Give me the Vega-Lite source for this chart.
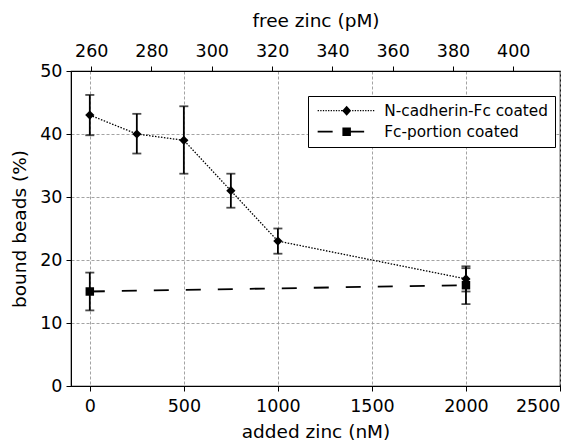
{
  "$schema": "https://vega.github.io/schema/vega-lite/v6.json",
  "width": 489,
  "height": 315,
  "autosize": "none",
  "padding": {"left": 71, "top": 71, "right": 25, "bottom": 57},
  "background": "white",
  "config": {
    "font": "DejaVu Sans",
    "view": {"stroke": "black", "strokeWidth": 1.2},
    "axis": {
      "domainColor": "black", "tickColor": "black", "labelColor": "black", "titleColor": "black",
      "labelFontSize": 17.5, "titleFontSize": 18.5, "titleFontWeight": "normal",
      "tickSize": 5, "labelPadding": 4, "gridColor": "#999999", "gridDash": [3, 2], "gridWidth": 0.9
    }
  },
  "datasets": {
    "beads": [
      {"series": "N-cadherin-Fc coated", "added": 0, "pct": 43, "lo": 39.8, "hi": 46.2},
      {"series": "N-cadherin-Fc coated", "added": 250, "pct": 40, "lo": 36.9, "hi": 43.2},
      {"series": "N-cadherin-Fc coated", "added": 500, "pct": 39, "lo": 33.7, "hi": 44.4},
      {"series": "N-cadherin-Fc coated", "added": 750, "pct": 31, "lo": 28.3, "hi": 33.7},
      {"series": "N-cadherin-Fc coated", "added": 1000, "pct": 23, "lo": 21, "hi": 25},
      {"series": "N-cadherin-Fc coated", "added": 2000, "pct": 17, "lo": 15, "hi": 19},
      {"series": "Fc-portion coated", "added": 0, "pct": 15, "lo": 12, "hi": 18},
      {"series": "Fc-portion coated", "added": 2000, "pct": 16, "lo": 13, "hi": 18.7}
    ],
    "free": [{"free": 260}, {"free": 400}]
  },
  "layer": [
    {
      "data": {"name": "beads"},
      "layer": [
        {
          "mark": {"type": "rule", "color": "black", "strokeWidth": 1.8},
          "encoding": {
            "x": {"field": "added", "type": "quantitative", "scale": {"domain": [-100, 2500], "nice": false, "zero": false},
              "axis": {"values": [0, 500, 1000, 1500, 2000, 2500], "format": "d", "title": "added zinc (nM)", "grid": true, "labelPadding": 6, "titlePadding": 8}},
            "y": {"field": "lo", "type": "quantitative", "scale": {"domain": [0, 50], "nice": false},
              "axis": {"values": [0, 10, 20, 30, 40, 50], "title": "bound beads (%)", "grid": true, "titlePadding": 10}},
            "y2": {"field": "hi"}
          }
        },
        {
          "mark": {"type": "tick", "color": "black", "thickness": 1.8, "size": 9, "orient": "horizontal"},
          "encoding": {
            "x": {"field": "added", "type": "quantitative"},
            "y": {"field": "lo", "type": "quantitative"}
          }
        },
        {
          "mark": {"type": "tick", "color": "black", "thickness": 1.8, "size": 9, "orient": "horizontal"},
          "encoding": {
            "x": {"field": "added", "type": "quantitative"},
            "y": {"field": "hi", "type": "quantitative"}
          }
        },
        {
          "mark": {"type": "line", "color": "black"},
          "encoding": {
            "x": {"field": "added", "type": "quantitative"},
            "y": {"field": "pct", "type": "quantitative"},
            "detail": {"field": "series"},
            "strokeDash": {"field": "series", "type": "nominal", "legend": null,
              "scale": {"domain": ["Fc-portion coated", "N-cadherin-Fc coated"], "range": [[15, 17], [1.5, 1.5]]}},
            "strokeWidth": {"field": "series", "type": "nominal", "legend": null,
              "scale": {"domain": ["Fc-portion coated", "N-cadherin-Fc coated"], "range": [1.8, 1.3]}}
          }
        },
        {
          "transform": [{"filter": "datum.series === 'N-cadherin-Fc coated'"}],
          "mark": {"type": "point", "shape": "diamond", "filled": true, "color": "black", "size": 85, "opacity": 1},
          "encoding": {
            "x": {"field": "added", "type": "quantitative"},
            "y": {"field": "pct", "type": "quantitative"}
          }
        },
        {
          "transform": [{"filter": "datum.series === 'Fc-portion coated'"}],
          "mark": {"type": "point", "shape": "square", "filled": true, "color": "black", "size": 72, "opacity": 1},
          "encoding": {
            "x": {"field": "added", "type": "quantitative"},
            "y": {"field": "pct", "type": "quantitative"}
          }
        },
        {
          "mark": {"type": "point", "fill": "black", "stroke": "black", "strokeWidth": 0, "opacity": 0},
          "encoding": {
            "x": {"field": "added", "type": "quantitative"},
            "y": {"field": "pct", "type": "quantitative"},
            "shape": {"field": "series", "type": "nominal",
              "scale": {"domain": ["N-cadherin-Fc coated", "Fc-portion coated"],
                "range": [
                  "M-1,-0.12h0.26v0.24h-0.26ZM-0.48,-0.12h0.26v0.24h-0.26ZM0.04,-0.12h0.26v0.24h-0.26ZM0.56,-0.12h0.26v0.24h-0.26ZM1.08,-0.12h0.26v0.24h-0.26ZM1.6,-0.12h0.26v0.24h-0.26ZM2.12,-0.12h0.26v0.24h-0.26ZM2.64,-0.12h0.26v0.24h-0.26ZM3.16,-0.12h0.26v0.24h-0.26ZM3.68,-0.12h0.26v0.24h-0.26ZM5.9,-0.12h0.26v0.24h-0.26ZM6.42,-0.12h0.26v0.24h-0.26ZM6.94,-0.12h0.26v0.24h-0.26ZM7.46,-0.12h0.26v0.24h-0.26ZM7.98,-0.12h0.26v0.24h-0.26ZM8.5,-0.12h0.26v0.24h-0.26ZM9.02,-0.12h0.26v0.24h-0.26ZM9.54,-0.12h0.26v0.24h-0.26ZM10.06,-0.12h0.26v0.24h-0.26ZM4.8,-1L5.7,0L4.8,1L3.9,0Z",
                  "M-1,-0.18H2V0.18H-1ZM4.4,-0.18H8.3V0.18H4.4ZM3.95,-0.85H5.65V0.85H3.95Z"
                ]},
              "legend": {
                "title": null, "orient": "none", "legendX": 237, "legendY": 25,
                "fillColor": "white", "strokeColor": "black", "padding": 7, "cornerRadius": 0,
                "symbolOpacity": 1, "symbolFillColor": "black", "symbolStrokeColor": "black", "symbolStrokeWidth": 0,
                "symbolSize": 100, "labelFontSize": 15.3, "labelOffset": 54, "rowPadding": 5, "labelColor": "black", "labelLimit": 300
              }
            }
          }
        }
      ]
    },
    {
      "data": {"name": "free"},
      "mark": {"type": "point", "opacity": 0},
      "encoding": {
        "x": {"field": "free", "type": "quantitative", "scale": {"domain": [253.3, 415.5], "nice": false, "zero": false},
          "axis": {"orient": "top", "values": [260, 280, 300, 320, 340, 360, 380, 400], "title": "free zinc (pM)", "grid": false, "labelPadding": 6, "titlePadding": 12}}
      }
    }
  ],
  "resolve": {"scale": {"x": "independent"}, "axis": {"x": "independent"}}
}
